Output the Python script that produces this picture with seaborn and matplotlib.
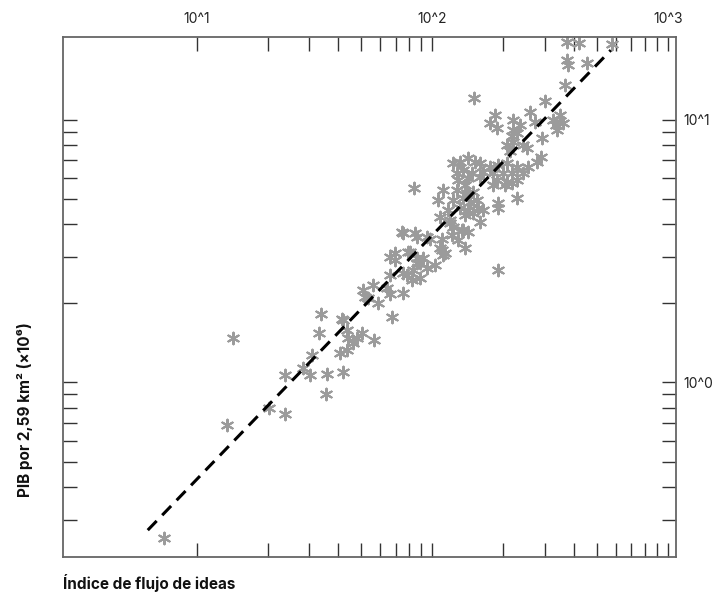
import numpy as np
import pandas as pd
import matplotlib
matplotlib.use("Agg")
import matplotlib.pyplot as plt
import seaborn as sns
from matplotlib.ticker import FixedLocator, FixedFormatter, NullFormatter

# values (log-log)
ideas_flow = [
    7.3, 13.4, 14.2, 20.2, 23.6, 23.7, 28.4, 30.3, 30.8, 35.6, 35.4, 41.7, 40.6,
    33.1, 33.7, 41.7, 43.3, 44.0, 46.2, 47.8, 50.2, 43.3, 56.6, 41.3, 51.0, 56.2,
    51.8, 59.0, 53.5, 67.3, 66.1, 75.4, 64.0, 66.1, 77.9, 83.0, 88.7, 94.6, 102.6,
    66.1, 69.5, 79.1, 85.9, 88.7, 75.4, 81.8, 91.6, 80.4, 69.5, 75.4, 84.5, 85.9,
    94.6, 107.8, 111.4, 137.7, 109.6, 122.8, 133.3, 142.2, 107.8, 118.9, 106.0,
    111.4, 83.9, 74.2, 97.8, 128.9, 109.6, 113.2, 85.9, 190.6,
    122.8, 131.1, 142.2, 151.7, 159.3, 175.8, 190.6, 207.0, 228.1, 255.3,
    126.9, 135.4, 146.9, 164.7, 181.5, 200.1, 217.3, 243.5,
    128.9, 142.2, 159.3, 187.6, 207.0, 228.1, 137.7, 181.5, 203.5, 217.3,
    126.9, 140.0, 149.3, 228.1, 122.8, 135.4, 144.5, 154.2, 190.6, 190.6,
    116.9, 131.1, 142.2, 156.7, 164.7, 137.7, 149.3, 159.3, 118.9, 135.4, 120.8,
    371.9, 420.7, 576.8, 374.0, 377.5, 452.0, 365.7, 300.7, 150.3, 259.9, 348.3,
    184.6, 175.8, 187.6, 219.3, 235.7, 273.0, 324.5, 335.1, 357.6, 337.3, 220.7,
    217.3, 228.1, 293.0, 207.0, 220.7, 243.5, 251.6, 213.8, 288.4, 277.5,
]
gdp_density = [
    0.255, 0.69, 1.48, 0.80, 0.76, 1.07, 1.13, 1.07, 1.27, 1.08, 0.90, 1.10, 1.30,
    1.54, 1.82, 1.73, 1.58, 1.47, 1.41, 1.47, 1.54, 1.33, 1.45, 1.75, 2.25, 2.35,
    2.12, 2.00, 2.09, 1.78, 2.18, 2.19, 2.28, 2.56, 2.56, 2.68, 2.49, 2.72, 2.80,
    3.01, 3.10, 3.14, 2.97, 2.84, 2.60, 2.45, 2.97, 3.14, 2.92, 3.69, 3.69, 3.57,
    3.59, 3.24, 3.05, 3.24, 3.53, 3.91, 3.80, 3.75, 4.27, 4.15, 4.94,
    5.40, 5.48, 3.75, 3.53, 3.48, 3.19, 3.10, 2.84, 2.68,
    6.82, 6.92, 7.13, 6.92, 6.82, 6.62, 6.72, 6.82, 6.62, 6.62,
    6.25, 6.44, 6.25, 6.34, 6.25, 6.25, 6.25, 6.25,
    5.89, 5.98, 6.07, 5.89, 5.81, 5.89, 5.64, 5.64, 5.64, 5.73,
    5.40, 5.25, 5.32, 5.02, 4.94, 5.02, 4.87, 4.94, 4.81, 4.60,
    4.53, 4.60, 4.53, 4.60, 4.53, 4.34, 4.40, 4.09, 4.03, 3.80, 3.64,
    19.8, 19.6, 19.4, 16.9, 16.2, 16.4, 13.6, 11.8, 12.1, 10.7, 10.4,
    10.4, 9.69, 9.32, 10.0, 9.55, 9.83, 9.97, 9.55, 9.69, 9.14, 9.14,
    8.67, 8.87, 8.49, 8.01, 8.25, 8.01, 7.78, 7.62, 7.19, 6.92,
]

# dashed fit line end points
fit_x = [6.2, 573]
fit_y = [0.274, 18.4]

x_major = [10, 100, 1000]
x_major_labels = ["10^1", "10^2", "10^3"]
x_minor = [20, 30, 40, 50, 60, 70, 80, 90, 200, 300, 400, 500, 600, 700, 800, 900]
y_major = [1, 10]
y_major_labels = ["10^0", "10^1"]
y_minor = [0.3, 0.4, 0.5, 0.6, 0.7, 0.8, 0.9, 2, 3, 4, 5, 6, 7, 8, 9]

df = pd.DataFrame({"flujo": ideas_flow, "pib": gdp_density})

sns.set_theme(style="white")
plt.rcParams["font.family"] = ["Inter", "DejaVu Sans"]

fig = plt.figure(figsize=(7.2, 6.12), dpi=100)
ax = fig.add_axes([0.0871, 0.0894, 0.8511, 0.8497])

sns.scatterplot(data=df, x="flujo", y="pib", marker=(6, 2, 0), s=70,
                color="#9b9b9b", linewidth=1.5, ax=ax, zorder=2)
sns.lineplot(x=fit_x, y=fit_y, color="black", lw=2.2,
             linestyle=(0, (4.2, 2.6)), ax=ax, zorder=3)

ax.set_xscale("log")
ax.set_yscale("log")
ax.set_xlim(2.70, 1078)
ax.set_ylim(0.216, 20.6)

ax.xaxis.set_major_locator(FixedLocator(x_major))
ax.xaxis.set_major_formatter(FixedFormatter(x_major_labels))
ax.xaxis.set_minor_locator(FixedLocator(x_minor))
ax.xaxis.set_minor_formatter(NullFormatter())
ax.yaxis.set_major_locator(FixedLocator(y_major))
ax.yaxis.set_major_formatter(FixedFormatter(y_major_labels))
ax.yaxis.set_minor_locator(FixedLocator(y_minor))
ax.yaxis.set_minor_formatter(NullFormatter())

ax.tick_params(axis="x", which="both", direction="in", top=True, bottom=True,
               labeltop=True, labelbottom=False, length=10, width=1,
               color="#333333", labelsize=10, labelcolor="#222222", pad=8)
ax.tick_params(axis="y", which="both", direction="in", left=True, right=True,
               labelleft=False, labelright=True, length=10, width=1,
               color="#333333", labelsize=10, labelcolor="#222222", pad=6)

for sp in ax.spines.values():
    sp.set_color("#666666")
    sp.set_linewidth(1.3)

ax.set_xlabel("")
ax.set_ylabel("")

fig.text(0.087, 0.047, "Índice de flujo de ideas", ha="left", va="center",
         fontsize=11, fontweight="bold", color="#111111")
fig.text(0.035, 0.33, "PIB por 2,59 km² (×10⁶)", ha="center", va="center",
         rotation=90, fontsize=11, fontweight="bold", color="#111111")

fig.savefig("out.png", dpi=100)
